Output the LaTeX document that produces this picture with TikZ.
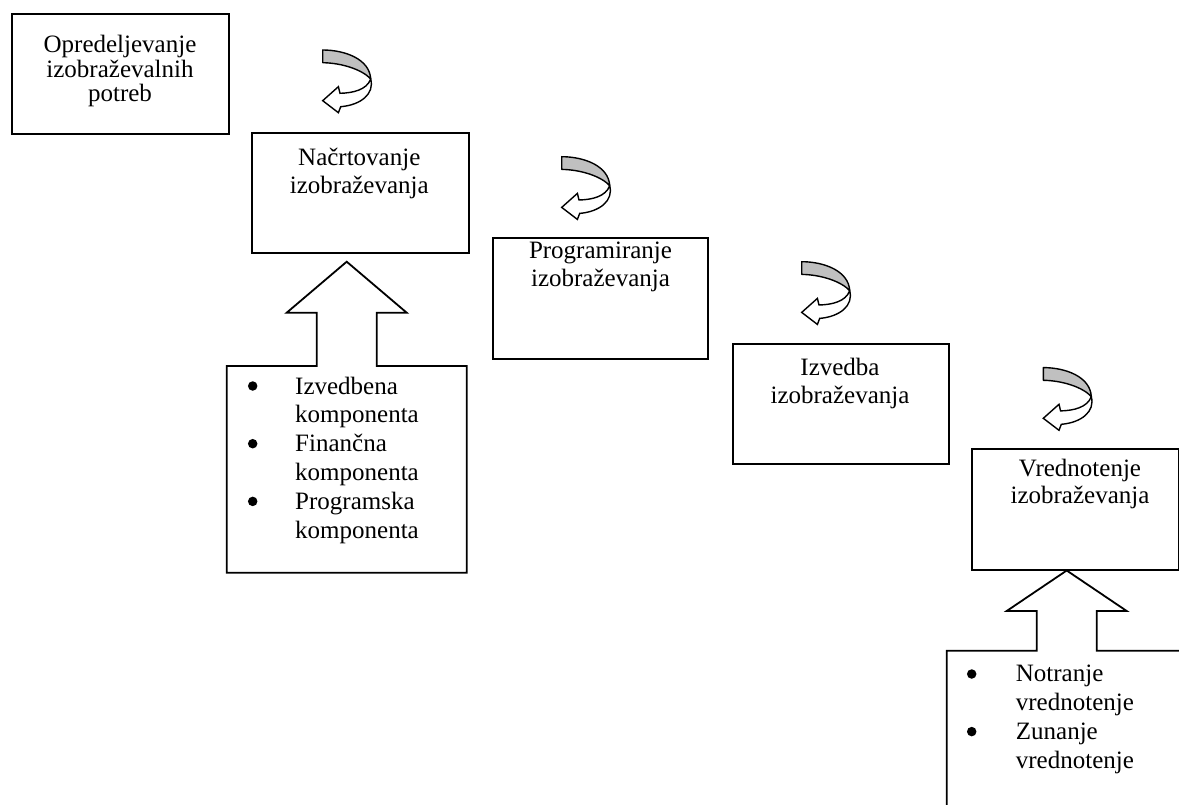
\documentclass[tikz,border=0pt]{standalone}
\usepackage{fontspec}
\setmainfont{Liberation Serif}
\definecolor{arrowgray}{RGB}{192,192,192}
\begin{document}
\begin{tikzpicture}[x=1pt,y=-1pt,
  outline/.style={draw=black, line width=1.8pt, fill=white, line join=miter},
  box/.style={outline, inner sep=0pt, anchor=north west},
  txt/.style={anchor=base, inner sep=0pt, font=\fontsize{25}{29}\selectfont},
  itm/.style={txt, anchor=base west},
  bullet/.style={circle, fill=black, inner sep=0pt, minimum size=9.5pt},
  curl/.pic={
    \draw[line width=1.4pt, fill=arrowgray, line join=round]
      (0,0) .. controls (22,0) and (47,9) .. (48,29)
      .. controls (40,20) and (20,13) .. (0,12.7) -- cycle;
    \draw[line width=1.4pt, fill=white, line join=miter]
      (48,29) .. controls (44,40) and (30,43) .. (17.3,43.3)
      -- (15.7,36.7) -- (0,50.7) -- (15.7,62.7) -- (18,56.7)
      .. controls (38,55) and (52,44) .. (48,29) -- cycle;
  }]
\clip (0,0) rectangle (1179,805);
\fill[white] (0,0) rectangle (1179,805);

% boxes
\node[box, minimum width=217pt, minimum height=120pt] (b1) at (11,13) {};
\node[box, minimum width=216.7pt, minimum height=120pt] (b2) at (251,132) {};
\node[box, minimum width=215pt, minimum height=121pt] (b3) at (491.7,237.3) {};
\node[box, minimum width=216pt, minimum height=120.6pt] (b4) at (731.7,342.7) {};
\node[box, minimum width=207pt, minimum height=120.7pt] (b5) at (971,448.3) {};

% box texts
\node[txt] (t1a) at (120,52.7) {Opredeljevanje};
\node[txt] (t1b) at (120,77.3) {izobraževalnih};
\node[txt] (t1c) at (120,101.7) {potreb};
\node[txt] (t2a) at (359.3,165.7) {Načrtovanje};
\node[txt] (t2b) at (359.3,193.3) {izobraževanja};
\node[txt] (t3a) at (600.5,258.3) {Programiranje};
\node[txt] (t3b) at (600.5,286.7) {izobraževanja};
\node[txt] (t4a) at (840,375) {Izvedba};
\node[txt] (t4b) at (840,403) {izobraževanja};
\node[txt] (t5a) at (1080,476) {Vrednotenje};
\node[txt] (t5b) at (1080,503.5) {izobraževanja};

% curled arrows
\pic (c1) at (322.7,50) {curl};
\pic (c2) at (561.7,156.7) {curl};
\pic (c3) at (801.7,261.7) {curl};
\pic (c4) at (1043.3,367.6) {curl};

% callout 1
\draw[outline] (226.7,572.7) -- (226.7,366) -- (316.7,366) -- (316.7,312.7)
  -- (286.7,312.7) -- (346.7,261.7) -- (406.7,312.7) -- (376.7,312.7)
  -- (376.7,366) -- (466.7,366) -- (466.7,572.7) -- cycle;
\node[bullet] (p1) at (252.7,386) {};
\node[itm] (i1a) at (295,394) {Izvedbena};
\node[itm] (i1b) at (295,422.85) {komponenta};
\node[bullet] (p2) at (252.7,443.7) {};
\node[itm] (i2a) at (295,451.7) {Finančna};
\node[itm] (i2b) at (295,480.55) {komponenta};
\node[bullet] (p3) at (252.7,501.4) {};
\node[itm] (i3a) at (295,509.4) {Programska};
\node[itm] (i3b) at (295,538.25) {komponenta};

% callout 2
\draw[outline] (946.7,815) -- (946.7,650.7) -- (1036.7,650.7) -- (1036.7,611)
  -- (1006.7,611) -- (1066.7,570.5) -- (1126.7,611) -- (1096.7,611)
  -- (1096.7,650.7) -- (1186.7,650.7) -- (1186.7,815) -- cycle;
\node[bullet] (q1) at (971.7,674) {};
\node[itm] (j1a) at (1015.7,681.7) {Notranje};
\node[itm] (j1b) at (1015.7,710.5) {vrednotenje};
\node[bullet] (q2) at (971.7,731.6) {};
\node[itm] (j2a) at (1015.7,739.3) {Zunanje};
\node[itm] (j2b) at (1015.7,768.1) {vrednotenje};
\end{tikzpicture}
\end{document}
